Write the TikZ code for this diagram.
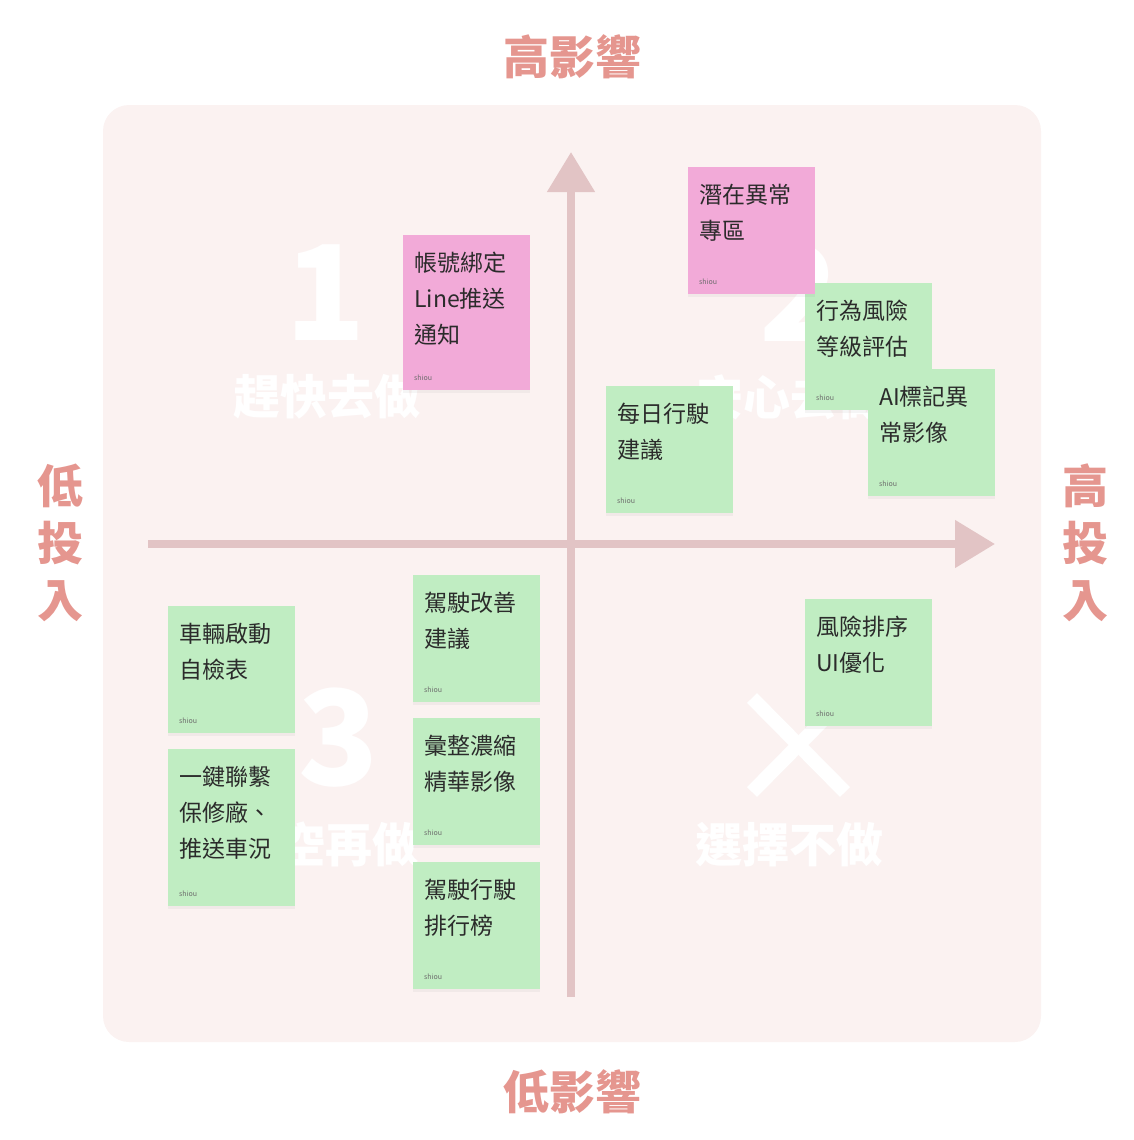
\documentclass[tikz,border=0pt]{standalone}
\usepackage{fontspec}
\setmainfont{Noto Sans CJK TC}
\usetikzlibrary{arrows.meta,positioning,shadows}
\definecolor{mxpanel}{HTML}{FBF2F1}
\definecolor{mxaxis}{HTML}{E2C4C5}
\definecolor{mxtitle}{HTML}{E5968F}
\definecolor{mxpink}{HTML}{F2AAD8}
\definecolor{mxgreen}{HTML}{C0EDC2}
\definecolor{mxink}{HTML}{2B2B2B}
\definecolor{mxmute}{HTML}{6B6B6B}
\tikzset{
  note/.style={anchor=north west, minimum width=127pt, minimum height=127pt, inner sep=0pt,
    drop shadow={opacity=0.08, shadow xshift=0pt, shadow yshift=-3pt}},
  pnote/.style={note, fill=mxpink},
  gnote/.style={note, fill=mxgreen},
  tnote/.style={inner sep=0pt, align=left, text=mxink, font=\fontsize{23}{36}\selectfont},
  sig/.style={inner sep=0pt, text=mxmute, font=\fontsize{7}{8}\selectfont},
  ttl/.style={text=mxtitle, font=\fontsize{46}{57}\selectfont\bfseries, align=center},
  qnum/.style={text=white, font=\fontsize{132}{132}\selectfont\bfseries},
  qtxt/.style={text=white, font=\fontsize{47}{50}\selectfont\bfseries},
  ax/.style={-{Triangle[length=40pt,width=46pt]}, line width=8pt, color=mxaxis},
}
\newcommand{\sticky}[6]{% style, name, x, y, height, text
  \node[#1, minimum height=#5pt] (#2) at (#3,#4) {};
  \node[tnote, below right=17pt and 11pt of #2.north west] (#2t) {#6};
  \node[sig, above right=10pt and 11pt of #2.south west] (#2s) {shiou};
}
\begin{document}
\begin{tikzpicture}[x=1pt,y=-1pt]
  \useasboundingbox (0,0) rectangle (1134,1140);
  \fill[mxpanel, rounded corners=26pt] (103,105) rectangle (1041,1042);
  % axis titles
  \node[ttl] (top) at (572,57) {高影響};
  \node[ttl] (bot) at (572,1092) {低影響};
  \node[ttl] (lft) at (60,543) {低\\投\\入};
  \node[ttl] (rgt) at (1085,543) {高\\投\\入};
  % quadrant marks
  \node[qnum] (q1) at (326,293) {1};
  \node[qtxt] (q1t) at (327,397) {趕快去做};
  \node[qnum] (q2) at (800,293) {2};
  \node[qtxt] (q2t) at (790,397) {安心去做};
  \node[qnum] (q3) at (339,738) {3};
  \node[qtxt] (q3t) at (325,845) {有空再做};
  \draw[white, line width=14pt] (752,698) -- (845,792);
  \draw[white, line width=14pt] (845,698) -- (752,792);
  \node[qtxt] (q4t) at (789,845) {選擇不做};
  % axes
  \coordinate (vs) at (571,997);
  \coordinate (ve) at (571,152);
  \coordinate (hs) at (148,544);
  \coordinate (he) at (995,544);
  \draw[ax] (vs) -- (ve);
  \draw[ax] (hs) -- (he);
  % sticky notes
  \sticky{pnote}{bind}{403}{235}{155}{帳號綁定\\Line推送\\通知}
  \sticky{gnote}{risk}{805}{283}{127}{行為風險\\等級評估}
  \sticky{pnote}{anom}{688}{167}{127}{潛在異常\\專區}
  \sticky{gnote}{mark}{868}{369}{127}{AI標記異\\常影像}
  \sticky{gnote}{daily}{606}{386}{127}{每日行駛\\建議}
  \sticky{gnote}{check}{168}{606}{127}{車輛啟動\\自檢表}
  \sticky{gnote}{call}{168}{749}{157}{一鍵聯繫\\保修廠、\\推送車況}
  \sticky{gnote}{tips}{413}{575}{127}{駕駛改善\\建議}
  \sticky{gnote}{clip}{413}{718}{127}{彙整濃縮\\精華影像}
  \sticky{gnote}{rank}{413}{862}{127}{駕駛行駛\\排行榜}
  \sticky{gnote}{sort}{805}{599}{127}{風險排序\\UI優化}
\end{tikzpicture}
\end{document}
